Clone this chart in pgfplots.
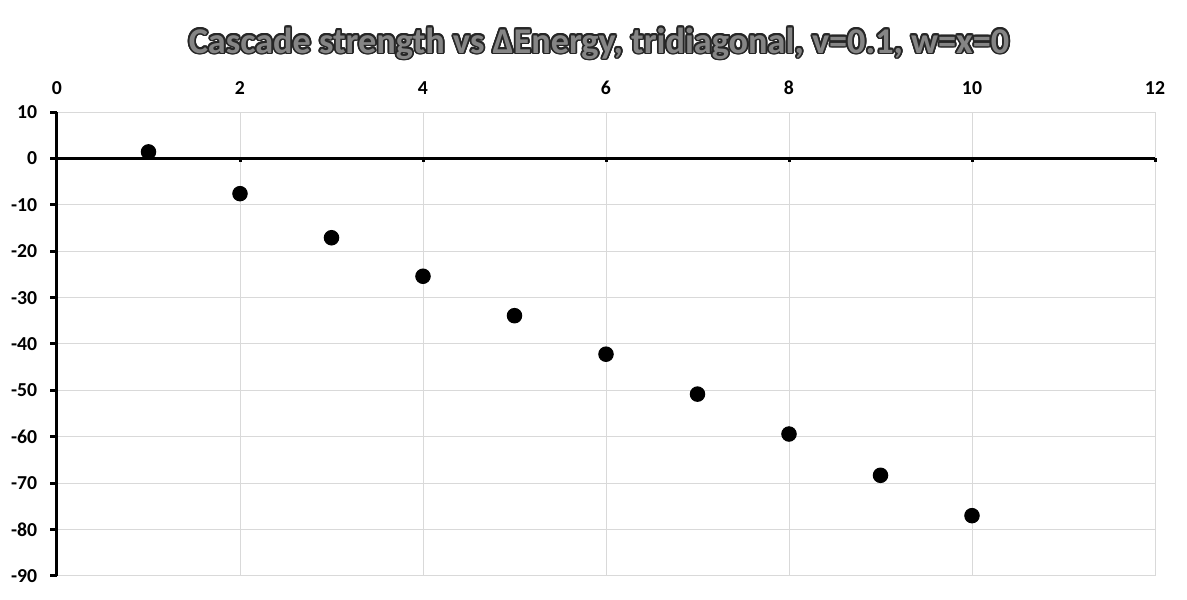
\documentclass[border=0pt]{standalone}
\usepackage{pgfplots}
\pgfplotsset{compat=1.18}
\usepackage{fontspec}
\setmainfont{Carlito}
\definecolor{gridc}{HTML}{D9D9D9}
\definecolor{titlefill}{HTML}{858585}
\begin{document}
\begin{tikzpicture}
\useasboundingbox (0pt,0pt) rectangle (474.8pt,240pt);
\begin{axis}[
  at={(22.8pt,9.6pt)}, anchor=south west, scale only axis,
  width=439.2pt, height=185.6pt,
  xmin=0, xmax=12, ymin=-90, ymax=10,
  xtick={0,2,...,12}, ytick={-90,-80,...,10},
  grid=major, major grid style={color=gridc, line width=0.4pt},
  axis line style={draw=none}, tick style={draw=none},
  major tick length=0pt,
  xticklabel pos=upper, yticklabel pos=left,
  /pgf/number format/assume math mode=true,
  ticklabel style={font=\fontsize{7.9}{9}\selectfont\bfseries},
  xticklabel style={yshift=3.4pt},
  yticklabel style={xshift=-4.4pt},
  clip=false,
]
\draw[line width=1.2pt] (axis cs:0,-90) -- (axis cs:0,10);
\draw[line width=1.2pt] (axis cs:0,0) -- (axis cs:12,0);
\pgfplotsinvokeforeach{-90,-80,...,10}{
  \draw[line width=1.2pt] (axis cs:0,#1) -- ([xshift=-2.8pt]axis cs:0,#1);
}
\pgfplotsinvokeforeach{2,4,...,12}{
  \draw[line width=1.2pt] (axis cs:#1,0) -- ([yshift=-1.4pt]axis cs:#1,0);
}
\addplot[only marks, mark=*, mark size=2.9pt, color=black] coordinates {
(1,1.4) (2,-7.6) (3,-17.1) (4,-25.4) (5,-33.9) (6,-42.2) (7,-50.8) (8,-59.4) (9,-68.3) (10,-77.0)
};
\end{axis}
\def\ttl{Cascade strength vs ΔEnergy, tridiagonal, v=0.1, w=x=0}
\foreach \a in {0,22.5,...,337.5}{
  \node[text=black!85, font=\fontsize{14.5}{17}\selectfont\bfseries] at ([shift={(\a:0.7pt)}]239.6pt,222.6pt) {\ttl};
}
\node[text=titlefill, font=\fontsize{14.5}{17}\selectfont\bfseries] at (239.6pt,222.6pt) {\ttl};
\end{tikzpicture}
\end{document}
